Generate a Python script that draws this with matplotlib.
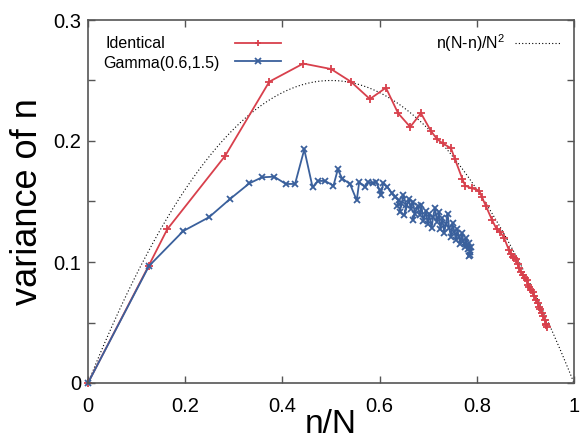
import numpy as np
import matplotlib
matplotlib.use("Agg")
import matplotlib.pyplot as plt
from matplotlib.ticker import MultipleLocator

plt.rcParams["font.family"] = ["Liberation Sans", "DejaVu Sans"]
plt.rcParams["mathtext.fontset"] = "custom"
plt.rcParams["mathtext.rm"] = "Liberation Sans"
plt.rcParams["mathtext.it"] = "Liberation Sans:italic"

# Identical workers (red)
ident_x = [0, 0.125, 0.163, 0.282, 0.373, 0.443, 0.500, 0.541, 0.580, 0.613,
           0.638, 0.663, 0.685, 0.706, 0.718, 0.730, 0.747, 0.755, 0.770, 0.776,
           0.790, 0.805, 0.810, 0.819, 0.831, 0.841, 0.848, 0.856, 0.866, 0.870,
           0.874, 0.877, 0.880, 0.884, 0.887, 0.891, 0.895, 0.899, 0.903, 0.906,
           0.908, 0.912, 0.915, 0.918, 0.922, 0.925, 0.928, 0.931, 0.934, 0.937,
           0.940, 0.942, 0.945, 0.943]
ident_y = [0, 0.097, 0.127, 0.1876, 0.249, 0.264, 0.2595, 0.249, 0.2347, 0.244,
           0.223, 0.2116, 0.223, 0.208, 0.2017, 0.198, 0.194, 0.185, 0.169, 0.163,
           0.161, 0.159, 0.154, 0.146, 0.135, 0.127, 0.125, 0.120, 0.110, 0.107,
           0.104, 0.1035, 0.1025, 0.098, 0.095, 0.092, 0.089, 0.087, 0.085, 0.081,
           0.079, 0.077, 0.075, 0.072, 0.0686, 0.066, 0.063, 0.061, 0.058, 0.055,
           0.052, 0.049, 0.046, 0.048]

# Gamma(0.6,1.5) workers (blue)
gamma_x = [0, 0.1255, 0.196, 0.249, 0.292, 0.332, 0.358, 0.383, 0.407, 0.426,
           0.445, 0.462, 0.474, 0.488, 0.505, 0.514, 0.523, 0.539, 0.553, 0.558,
           0.570, 0.577, 0.586, 0.593, 0.600, 0.602, 0.608, 0.616, 0.625, 0.632,
           0.639, 0.636, 0.644, 0.641, 0.649, 0.655, 0.651, 0.660, 0.664, 0.668,
           0.673, 0.668, 0.678, 0.683, 0.686, 0.690, 0.695, 0.699, 0.702, 0.707,
           0.710, 0.714, 0.718, 0.722, 0.725, 0.729, 0.733, 0.736, 0.740, 0.743,
           0.747, 0.750, 0.754, 0.757, 0.760, 0.763, 0.766, 0.770, 0.772, 0.775,
           0.778, 0.781, 0.784, 0.786, 0.783, 0.788, 0.787]
gamma_y = [0, 0.0967, 0.1256, 0.137, 0.152, 0.165, 0.170, 0.1705, 0.1645, 0.1645,
           0.193, 0.162, 0.167, 0.167, 0.163, 0.1765, 0.169, 0.1645, 0.151, 0.166,
           0.162, 0.166, 0.165, 0.166, 0.1595, 0.155, 0.1655, 0.162, 0.157, 0.154,
           0.151, 0.146, 0.149, 0.141, 0.155, 0.147, 0.139, 0.152, 0.144, 0.150,
           0.140, 0.135, 0.146, 0.139, 0.147, 0.134, 0.142, 0.131, 0.140, 0.128,
           0.137, 0.145, 0.133, 0.141, 0.127, 0.136, 0.124, 0.131, 0.140, 0.128,
           0.121, 0.132, 0.125, 0.118, 0.127, 0.121, 0.115, 0.124, 0.117, 0.112,
           0.120, 0.111, 0.116, 0.108, 0.105, 0.112, 0.106]

xticks = [0, 0.2, 0.4, 0.6, 0.8, 1]
xticklabels = ["0", "0.2", "0.4", "0.6", "0.8", "1"]
yticks = [0, 0.1, 0.2, 0.3]
yticklabels = ["0", "0.1", "0.2", "0.3"]

red = "#d8404c"
blue = "#3a609c"
axis_col = "#555555"

fig = plt.figure(figsize=(5.86, 4.41), dpi=100)
ax = fig.add_axes([88 / 586, 58 / 441, 486 / 586, 363 / 441])

# theoretical curve n(N-n)/N^2
xs = np.linspace(0, 1, 300)
l_th, = ax.plot(xs, xs * (1 - xs), color="black", lw=0.8,
                linestyle=(0, (1, 2)))
l_id, = ax.plot(ident_x, ident_y, color=red, lw=1.3, marker="+", ms=6,
                mew=1.3, clip_on=False)
l_ga, = ax.plot(gamma_x, gamma_y, color=blue, lw=1.3, marker="x", ms=5,
                mew=1.3, clip_on=False)

ax.set_xlim(0, 1)
ax.set_ylim(0, 0.3)
ax.set_xticks(xticks)
ax.set_xticklabels(xticklabels)
ax.set_yticks(yticks)
ax.set_yticklabels(yticklabels)
ax.yaxis.set_minor_locator(MultipleLocator(0.05))
ax.tick_params(which="both", direction="in", top=True, right=True,
               length=5, width=1, color=axis_col, labelsize=14.5)
ax.tick_params(axis="x", pad=10)
ax.tick_params(axis="y", pad=5)
for sp in ax.spines.values():
    sp.set_color(axis_col)
    sp.set_linewidth(1.2)

ax.set_xlabel("n/N", fontsize=24, labelpad=-5)
ax.set_ylabel("variance of n", fontsize=26, labelpad=6)

# legend: labels on the left, samples on the right
ax.text(0.035, 0.9366, "Identical", transform=ax.transAxes, fontsize=11.5,
        va="center", ha="left")
ax.text(0.031, 0.8815, "Gamma(0.6,1.5)", transform=ax.transAxes, fontsize=11.5,
        va="center", ha="left")
leg1 = ax.legend([l_id, l_ga], ["", ""], loc="center",
                 bbox_to_anchor=(0.35, 0.909), frameon=False, fontsize=11.5,
                 handlelength=2.9, handletextpad=0, borderpad=0,
                 labelspacing=0.15, markerscale=0.8)
ax.add_artist(leg1)
ax.legend([l_th], ["n(N-n)/N$^2$"], loc="center right",
          bbox_to_anchor=(0.973, 0.9366), frameon=False, fontsize=11.5,
          markerfirst=False, handlelength=2.9, handletextpad=0.6,
          borderpad=0, borderaxespad=0)

fig.savefig("out.png", dpi=100)
